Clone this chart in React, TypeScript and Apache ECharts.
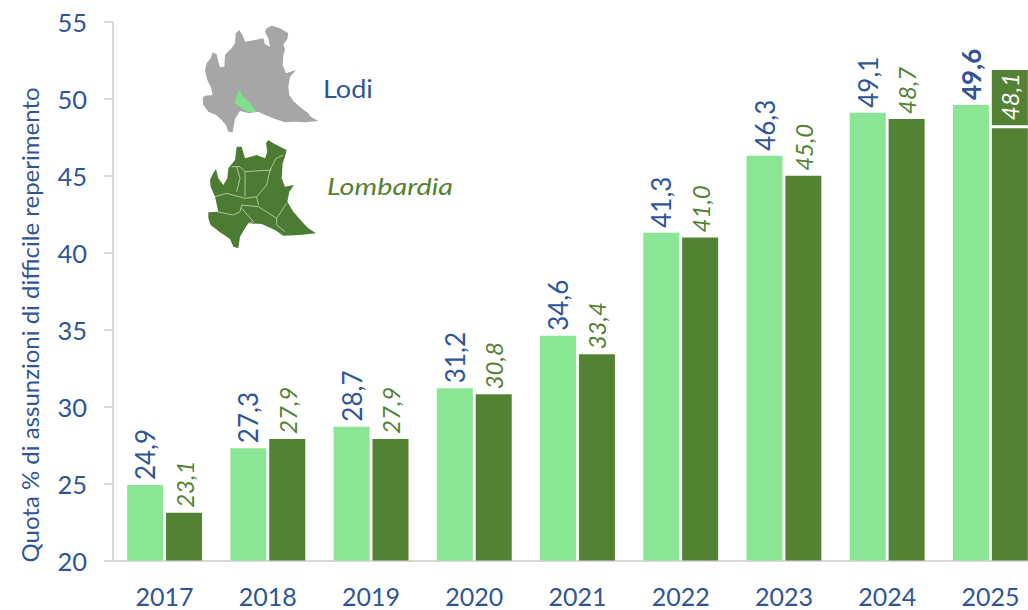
import React, { useEffect, useRef } from "react";
import * as echarts from "echarts";

const years = ["2017", "2018", "2019", "2020", "2021", "2022", "2023", "2024", "2025"];
const lodi = [24.9, 27.3, 28.7, 31.2, 34.6, 41.3, 46.3, 49.1, 49.6];
const lombardia = [23.1, 27.9, 27.9, 30.8, 33.4, 41.0, 45.0, 48.7, 48.1];

const BLUE = "#2F5597";
const LIGHT = "#8AE594";
const DARK = "#548235";
const AXIS = "#D9D9D9";
const FONT = "Lato, sans-serif";

const grayOutline = [[230,40],[245,32],[270,40],[295,55],[292,72],[280,88],[285,105],[280,120],[278,150],[288,175],[318,165],[300,185],[295,215],[298,240],[310,258],[335,280],[355,295],[362,305],[385,318],[345,322],[310,320],[285,322],[255,312],[225,300],[205,290],[178,295],[150,288],[135,312],[130,340],[128,352],[115,350],[108,330],[95,315],[78,300],[55,290],[40,270],[38,250],[45,242],[68,240],[62,215],[52,195],[45,165],[50,145],[62,130],[68,112],[80,118],[85,140],[90,157],[103,155],[105,120],[125,100],[135,85],[137,55],[148,45],[160,65],[165,80],[195,75],[220,70],[225,88],[240,95],[235,70],[225,50]];
const lodiArea = [[148,225],[160,245],[180,265],[200,290],[175,292],[155,280],[135,265],[140,240]];
const greenOutline = [[228,385],[235,375],[250,385],[270,395],[290,405],[285,425],[278,445],[275,490],[285,515],[312,510],[298,530],[292,560],[310,590],[340,625],[355,640],[378,655],[330,660],[280,662],[255,645],[215,627],[175,625],[165,640],[150,665],[145,700],[130,695],[120,672],[90,652],[62,630],[55,610],[55,592],[85,590],[75,545],[62,515],[60,495],[68,478],[78,462],[85,490],[100,510],[112,490],[115,460],[135,435],[140,395],[155,395],[165,430],[200,420],[225,430],[232,410]];
const borders = [
  [[245,465],[165,470],[150,455],[125,455]],
  [[280,420],[258,430],[240,465],[230,510],[200,545],[205,570]],
  [[165,470],[165,545]],
  [[140,455],[150,490],[140,530]],
  [[75,545],[110,535],[165,550],[200,545]],
  [[80,590],[130,600],[150,590],[155,570],[205,575],[260,610],[290,565]],
  [[155,580],[190,620],[175,625]],
  [[260,610],[260,630],[285,650]],
];
const toPage = (pts: number[][]) => pts.map(([x, y]) => [190 + x / 3, 15 + y / 3]);

export default function App() {
  const ref = useRef<HTMLDivElement>(null);
  useEffect(() => {
    document.body.style.margin = "0";
    const chart = echarts.init(ref.current!, null, { renderer: "svg" });
    const fmt = (p: any) => p.value.toFixed(1).replace(".", ",");
    chart.setOption({
      animation: false,
      backgroundColor: "#fff",
      grid: { left: 113, top: 22, width: 929, height: 538.5 },
      xAxis: {
        type: "category",
        data: years,
        axisTick: { show: false },
        axisLine: { lineStyle: { color: AXIS, width: 2 } },
        axisLabel: { color: BLUE, fontSize: 25, fontFamily: FONT, margin: 23 },
      },
      yAxis: {
        type: "value",
        min: 20,
        max: 55,
        interval: 5,
        splitLine: { show: false },
        axisLine: { show: true, lineStyle: { color: AXIS, width: 2 } },
        axisTick: { show: true, length: 9, lineStyle: { color: AXIS, width: 2 } },
        axisLabel: { color: BLUE, fontSize: 25.5, fontFamily: FONT, margin: 26 },
      },
      series: [
        {
          type: "bar",
          name: "Lodi",
          barWidth: 36,
          barGap: "8%",
          itemStyle: { color: LIGHT },
          data: lodi.map((v, i) => ({
            value: v,
            label: i === lodi.length - 1 ? { fontWeight: "bold" } : undefined,
          })),
          label: {
            show: true,
            position: "top",
            rotate: 90,
            align: "left",
            verticalAlign: "middle",
            distance: 5,
            color: BLUE,
            fontSize: 26,
            fontFamily: FONT,
            formatter: fmt,
          },
        },
        {
          type: "bar",
          name: "Lombardia",
          barWidth: 36,
          itemStyle: { color: DARK },
          data: lombardia.map((v, i) => ({
            value: v,
            label:
              i === lombardia.length - 1
                ? { color: "#fff", backgroundColor: DARK, padding: [7, 3, 5, 5], distance: 3 }
                : undefined,
          })),
          label: {
            show: true,
            position: "top",
            rotate: 90,
            align: "left",
            verticalAlign: "middle",
            distance: 5,
            color: DARK,
            fontSize: 24,
            fontStyle: "italic",
            fontFamily: FONT,
            formatter: fmt,
          },
        },
      ],
      graphic: [
        { type: "polygon", shape: { points: toPage(grayOutline) }, style: { fill: "#A6A6A6" } },
        { type: "polygon", shape: { points: toPage(lodiArea) }, style: { fill: "#7FE08F" } },
        { type: "polygon", shape: { points: toPage(greenOutline) }, style: { fill: "#4C7C33" } },
        ...borders.map((b) => ({
          type: "polyline",
          shape: { points: toPage(b) },
          style: { stroke: "#C5D8B5", lineWidth: 0.8, fill: "none" },
        })),
        { type: "text", x: 323, y: 88, scaleX: 1.08, style: { text: "Lodi", fill: BLUE, fontSize: 25, fontFamily: FONT, verticalAlign: "middle" } },
        { type: "text", x: 327, y: 186, scaleX: 1.2, style: { text: "Lombardia", fill: DARK, fontSize: 24, fontStyle: "italic", fontFamily: FONT, verticalAlign: "middle" } },
        {
          type: "text",
          x: 29,
          y: 325,
          rotation: Math.PI / 2,
          style: {
            text: "Quota % di assunzioni di difficile reperimento",
            fill: BLUE,
            fontSize: 24,
            fontFamily: FONT,
            align: "center",
            verticalAlign: "middle",
          },
        },
      ],
    });
    return () => chart.dispose();
  }, []);
  return (
    <div style={{ position: "absolute", left: 0, top: 0, width: 1028, height: 610, overflow: "hidden" }}>
      <div ref={ref} style={{ width: 1050, height: 610 }} />
    </div>
  );
}
